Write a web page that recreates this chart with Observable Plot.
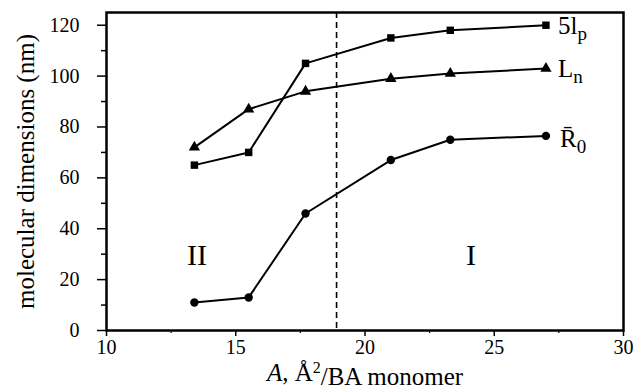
<!DOCTYPE html>
<html><head><meta charset="utf-8">
<script src="https://cdn.jsdelivr.net/npm/d3@7"></script>
<script src="https://cdn.jsdelivr.net/npm/@observablehq/plot@0.6"></script>
<style>
html,body{margin:0;padding:0;background:#fff;}
</style></head>
<body><div id="chart"></div>
<script>
const areas = [13.4, 15.5, 17.7, 21.0, 23.3, 27.0];
const lp5 = [65, 70, 105, 115, 118, 120];
const Ln = [72, 87, 94, 99, 101, 103];
const R0 = [11, 13, 46, 67, 75, 76.5];
const seriesNames = ["5lp", "Ln", "R0"];
const seriesSymbols = ["square", "triangle", "circle"];
const regionLabels = ["II", "I"];
const regionX = [13.5, 24.1];
const regionY = [29.5, 29.5];
const boundaryX = [18.9];
const yTicks = [0, 20, 40, 60, 80, 100, 120];
const yMinor = [10, 30, 50, 70, 90, 110];
const xTicks = [10, 15, 20, 25, 30];
const xMinor = [12.5, 17.5, 22.5, 27.5];
const yTitle = "molecular dimensions (nm)";
const xTitle = "A, Å²/BA monomer";

const seriesVals = [lp5, Ln, R0];
const data = [];
seriesNames.forEach((s, i) => areas.forEach((a, j) => data.push({series: s, symbol: seriesSymbols[i], x: a, y: seriesVals[i][j]})));
const lastPts = seriesNames.map((s, i) => ({series: s, x: areas[areas.length - 1], y: seriesVals[i][areas.length - 1]}));
const regions = regionLabels.map((l, i) => ({label: l, x: regionX[i], y: regionY[i]}));
const blank = () => "";
const serif = "Liberation Serif";

const plot = Plot.plot({
  width: 636, height: 392,
  marginLeft: 106, marginRight: 13, marginTop: 12, marginBottom: 62,
  style: {fontFamily: serif, fontSize: "20px", color: "black", background: "white"},
  x: {domain: [10, 30]},
  y: {domain: [0, 125]},
  marks: [
    Plot.axisY({ticks: yTicks, tickSize: 9, tickFormat: blank, label: null, strokeWidth: 1.5}),
    Plot.axisY({ticks: yMinor, tickSize: 5, tickFormat: blank, label: null, strokeWidth: 1.5}),
    Plot.axisX({ticks: xTicks, tickSize: 6, tickFormat: blank, label: null, strokeWidth: 1.5}),
    Plot.axisX({ticks: xMinor, tickSize: 3, tickFormat: blank, label: null, strokeWidth: 1.2}),
    Plot.text(yTicks, {y: (d) => d, text: (d) => String(d), frameAnchor: "left", textAnchor: "end", dx: -27, fontSize: 20, fontFamily: serif, fill: "black"}),
    Plot.text(xTicks, {x: (d) => d, text: (d) => String(d), frameAnchor: "bottom", lineAnchor: "top", dy: 9, fontSize: 20, fontFamily: serif, fill: "black"}),
    Plot.text([yTitle], {frameAnchor: "left", textAnchor: "middle", dx: -81, rotate: -90, fontSize: 25, fontFamily: serif}),
    Plot.text([xTitle], {frameAnchor: "bottom", textAnchor: "middle", dy: 50, fontSize: 25, fontFamily: serif}),
    Plot.frame({stroke: "black", strokeWidth: 2.5}),
    Plot.ruleX(boundaryX, {stroke: "black", strokeWidth: 1.6, strokeDasharray: "6,4"}),
    Plot.line(data, {x: "x", y: "y", z: "series", stroke: "black", strokeWidth: 2}),
    Plot.dot(data, {x: "x", y: "y", symbol: "symbol", r: 4.2, fill: "black", stroke: "none"}),
    Plot.text(lastPts, {filter: (d) => d.series !== "R0", x: "x", y: "y", text: "series", dx: 12, dy: 1, textAnchor: "start", fontSize: 25}),
    Plot.text(lastPts, {filter: (d) => d.series === "R0", x: "x", y: "y", text: "series", dx: 14, dy: 3, textAnchor: "start", fontSize: 25}),
    Plot.text(regions, {x: "x", y: "y", text: "label", fontSize: 30})
  ]
});

const subs = {"5lp": ["5l", "p"], "Ln": ["L", "n"], "R0": ["R\u0304", "0"]};
d3.select(plot).selectAll("text").each(function() {
  const t = this.textContent;
  const sel = d3.select(this);
  if (subs[t]) {
    const [main, sub] = subs[t];
    sel.text(null);
    sel.append("tspan").text(main);
    sel.append("tspan").attr("dy", "0.3em").attr("font-size", "19").text(sub);
  } else if (t === xTitle) {
    sel.text(null);
    sel.append("tspan").attr("font-style", "italic").text("A");
    sel.append("tspan").text(", Å");
    sel.append("tspan").attr("dy", "-0.45em").attr("font-size", "16").text("2");
    sel.append("tspan").attr("dy", "0.45em").text("/BA monomer");
  }
});
document.getElementById("chart").append(plot);
</script>
</body></html>
